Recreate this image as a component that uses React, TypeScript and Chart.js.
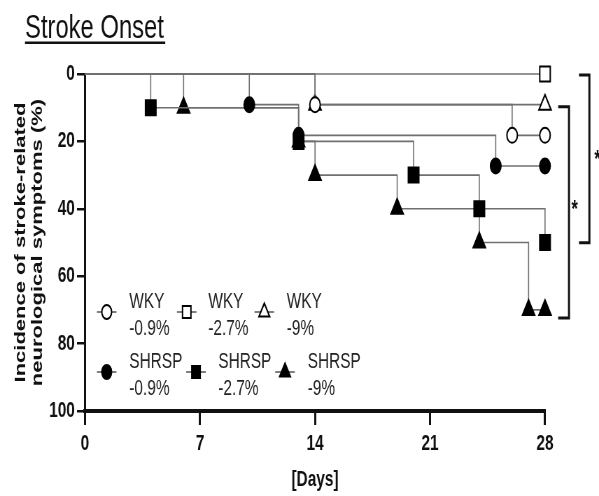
import React, { useEffect, useRef } from 'react';
import { Chart, registerables } from 'chart.js';

Chart.register(...registerables);

// ---------- data ----------
const xTickValues = [0, 7, 14, 21, 28];
const yTickValues = [0, 20, 40, 60, 80, 100];

const wky09Days = [0, 14, 26, 28];
const wky09Pct = [0, 9.1, 18.2, 18.2];
const wky27Days = [0, 28];
const wky27Pct = [0, 0];
const wky9Days = [0, 14, 28];
const wky9Pct = [0, 9.1, 9.1];
const shr09Days = [0, 10, 13, 25, 28];
const shr09Pct = [0, 9.1, 18.2, 27.3, 27.3];
const shr27Days = [0, 4, 13, 20, 24, 28];
const shr27Pct = [0, 10, 20, 30, 40, 50];
const shr9Days = [0, 6, 13, 14, 19, 24, 27, 28];
const shr9Pct = [0, 10, 20, 30, 40, 50, 70, 70];

const groupNames = ['WKY', 'WKY', 'WKY', 'SHRSP', 'SHRSP', 'SHRSP'];
const dietLabels = ['-0.9%', '-2.7%', '-9%', '-0.9%', '-2.7%', '-9%'];
const markerShapes = ['circle', 'rect', 'triangle', 'circle', 'rect', 'triangle'];
const markerFilled = [false, false, false, true, true, true];

const seriesDays = [wky09Days, wky27Days, wky9Days, shr09Days, shr27Days, shr9Days];
const seriesPct = [wky09Pct, wky27Pct, wky9Pct, shr09Pct, shr27Pct, shr9Pct];

// significance brackets (day / percent units)
const bracketTopPct = [9.7, 0.3];
const bracketBottomPct = [72.4, 50.1];
const bracketStartDay = [28.8, 30.07];
const bracketEndDay = [29.46, 30.7];
const starDay = [29.8, 31.2];
const starPct = [38.3, 23.4];

const TITLE = 'Stroke Onset';
const Y_TITLE = ['Incidence of stroke-related', 'neurological symptoms (%)'];
const X_TITLE = '[Days]';

// ---------- layout ----------
const OUT_W = 599;
const H = 496;
const W = 856;
const SX = OUT_W / W;
const FONT = "'Liberation Sans', Arial, Helvetica, sans-serif";
const LINE = '#707070';

const markerRadius: Record<string, number> = { circle: 7.5, rect: 10.6, triangle: 10 };
const legendRadius: Record<string, number> = { circle: 7, rect: 8.5, triangle: 8.8 };

// legend positions in reference pixels
const legendSymX = [106.7, 186.7, 264.3, 106.7, 196, 285];
const legendTextX = [129.3, 208.3, 286.7, 129.3, 218.3, 307.7];
const legendSymY = [312, 312, 312, 372, 372, 372];
const legendBase1 = [308, 308, 308, 368, 368, 368];
const legendBase2 = [335, 335, 335, 395, 395, 395];

function drawMarker(ctx: CanvasRenderingContext2D, shape: string, x: number, y: number, r: number, filled: boolean) {
  ctx.beginPath();
  if (shape === 'circle') {
    ctx.arc(x, y, r, 0, Math.PI * 2);
  } else if (shape === 'rect') {
    const s = r * Math.SQRT1_2;
    ctx.rect(x - s, y - s, 2 * s, 2 * s);
  } else {
    let a = 0;
    ctx.moveTo(x + Math.sin(a) * r, y - Math.cos(a) * r);
    a += (2 * Math.PI) / 3;
    ctx.lineTo(x + Math.sin(a) * r, y - Math.cos(a) * r);
    a += (2 * Math.PI) / 3;
    ctx.lineTo(x + Math.sin(a) * r, y - Math.cos(a) * r);
    ctx.closePath();
  }
  ctx.fillStyle = filled ? '#000' : '#fff';
  ctx.fill();
  ctx.lineWidth = 2;
  ctx.strokeStyle = '#000';
  ctx.stroke();
}

const overlayPlugin = {
  id: 'overlay',
  afterDraw(chart: any) {
    const ctx: CanvasRenderingContext2D = chart.ctx;
    const xs = chart.scales.x;
    const ys = chart.scales.y;
    ctx.save();

    // title + underline
    ctx.fillStyle = '#111';
    ctx.font = `34px ${FONT}`;
    ctx.textAlign = 'left';
    ctx.textBaseline = 'alphabetic';
    const tx = 25 / SX;
    ctx.fillText(TITLE, tx, 37.5);
    const tw = ctx.measureText(TITLE).width;
    ctx.fillRect(tx, 41.5, tw + 2, 2.5);

    // legend
    for (let i = 0; i < groupNames.length; i++) {
      const sx = legendSymX[i] / SX;
      const sy = legendSymY[i];
      ctx.beginPath();
      ctx.moveTo(sx - 14, sy);
      ctx.lineTo(sx + 14, sy);
      ctx.lineWidth = 1.5;
      ctx.strokeStyle = '#555';
      ctx.stroke();
      drawMarker(ctx, markerShapes[i], sx, sy, legendRadius[markerShapes[i]], markerFilled[i]);
      ctx.fillStyle = '#222';
      ctx.font = `22px ${FONT}`;
      ctx.textAlign = 'left';
      ctx.textBaseline = 'alphabetic';
      ctx.fillText(groupNames[i], legendTextX[i] / SX, legendBase1[i]);
      ctx.fillText(dietLabels[i], legendTextX[i] / SX, legendBase2[i]);
    }

    // brackets
    ctx.strokeStyle = '#111';
    ctx.lineWidth = 3;
    for (let i = 0; i < bracketTopPct.length; i++) {
      const x0 = xs.getPixelForValue(bracketStartDay[i]);
      const x1 = xs.getPixelForValue(bracketEndDay[i]);
      const y0 = ys.getPixelForValue(bracketTopPct[i]);
      const y1 = ys.getPixelForValue(bracketBottomPct[i]);
      ctx.beginPath();
      ctx.moveTo(x0, y0);
      ctx.lineTo(x1, y0);
      ctx.lineTo(x1, y1);
      ctx.lineTo(x0, y1);
      ctx.stroke();
      ctx.fillStyle = '#111';
      ctx.font = `bold 24px ${FONT}`;
      ctx.textAlign = 'center';
      ctx.textBaseline = 'alphabetic';
      ctx.fillText('*', xs.getPixelForValue(starDay[i]), ys.getPixelForValue(starPct[i]) + 13.8);
    }
    ctx.restore();
  },
};

function buildDatasets() {
  return seriesDays.map((days, i) => ({
    label: `${groupNames[i]} ${dietLabels[i]}`,
    data: days.map((d, j) => ({ x: d, y: seriesPct[i][j] })),
    stepped: 'before' as const,
    borderColor: LINE,
    borderWidth: 1.6,
    fill: false,
    clip: false as any,
    pointStyle: markerShapes[i],
    pointRadius: (c: any) => (c.dataIndex === 0 ? 0 : markerRadius[markerShapes[i]]),
    pointHoverRadius: (c: any) => (c.dataIndex === 0 ? 0 : markerRadius[markerShapes[i]]),
    pointBackgroundColor: markerFilled[i] ? '#000' : '#fff',
    pointBorderColor: '#000',
    pointBorderWidth: 2,
  }));
}

export default function App() {
  const ref = useRef<HTMLCanvasElement | null>(null);

  useEffect(() => {
    if (!ref.current) return;
    const chart = new Chart(ref.current, {
      type: 'line',
      data: { datasets: buildDatasets() as any },
      options: {
        responsive: false,
        animation: false,
        devicePixelRatio: 1,
        events: [],
        layout: { padding: { left: 0, top: 74, right: W - 545 / SX, bottom: 0 } },
        plugins: { legend: { display: false }, tooltip: { enabled: false }, title: { display: false } },
        scales: {
          x: {
            type: 'linear',
            min: 0,
            max: 28,
            afterFit: (s: any) => {
              s.height = H - 411;
            },
            afterBuildTicks: (s: any) => {
              s.ticks = xTickValues.map((v) => ({ value: v }));
            },
            ticks: {
              color: '#111',
              font: { family: FONT, size: 22, weight: 'bold' },
              padding: 6,
              maxRotation: 0,
            },
            grid: {
              display: true,
              drawOnChartArea: false,
              drawTicks: true,
              tickLength: 14,
              color: '#111',
              lineWidth: 3,
            },
            border: { display: true, color: '#111', width: 4 },
            title: {
              display: true,
              text: X_TITLE,
              color: '#111',
              font: { family: FONT, size: 22, weight: 'bold', lineHeight: 1.2 },
              padding: { top: 0, bottom: 3 },
            },
          },
          y: {
            type: 'linear',
            reverse: true,
            min: 0,
            max: 100,
            afterFit: (s: any) => {
              s.width = 85 / SX;
            },
            afterBuildTicks: (s: any) => {
              s.ticks = yTickValues.map((v) => ({ value: v }));
            },
            ticks: {
              color: '#111',
              font: { family: FONT, size: 22, weight: 'bold' },
              padding: 3,
            },
            grid: {
              display: true,
              drawOnChartArea: false,
              drawTicks: true,
              tickLength: 11.5,
              color: '#111',
              lineWidth: 2.5,
            },
            border: { display: true, color: '#111', width: 3 },
            title: {
              display: true,
              text: Y_TITLE,
              color: '#111',
              font: { family: FONT, size: 22, weight: 'bold', lineHeight: 1.08 },
              padding: { top: 18, bottom: 0 },
            },
          },
        },
      },
      plugins: [overlayPlugin],
    });
    return () => chart.destroy();
  }, []);

  return (
    <div
      style={{
        position: 'fixed',
        left: 0,
        top: 0,
        width: OUT_W,
        height: H,
        overflow: 'hidden',
        background: '#fff',
      }}
    >
      <div style={{ width: W, height: H, transform: `scaleX(${SX})`, transformOrigin: '0 0' }}>
        <canvas ref={ref} width={W} height={H} style={{ display: 'block', width: W, height: H }} />
      </div>
    </div>
  );
}
